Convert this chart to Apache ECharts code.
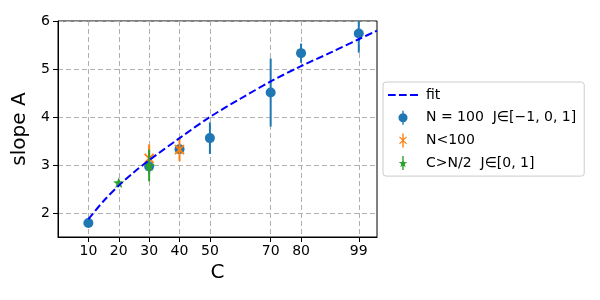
<!DOCTYPE html>
<html><head><meta charset="utf-8">
<script src="https://cdn.jsdelivr.net/npm/echarts@6/dist/echarts.min.js"></script>
<style>html,body{margin:0;padding:0;background:#fff}#c{width:600px;height:300px}</style>
</head><body><div id="c"></div>
<script>
const xTicks = [10, 20, 30, 40, 50, 70, 80, 99];
const yTicks = [2, 3, 4, 5, 6];
const fitC = [10, 15, 20, 25, 30, 40, 50, 60, 70, 80, 90, 99, 105];
const fitA = [1.87, 2.25, 2.57, 2.85, 3.1, 3.56, 4.0, 4.38, 4.74, 5.06, 5.35, 5.62, 5.8];
const blueC = [10, 30, 40, 50, 70, 80, 99];
const blueA = [1.79, 2.97, 3.33, 3.56, 4.51, 5.33, 5.74];
const blueErr = [0.03, 0.15, 0.1, 0.33, 0.71, 0.2, 0.4];
const orangeC = [30, 40];
const orangeA = [3.14, 3.32];
const orangeErr = [0.29, 0.24];
const greenC = [20, 30];
const greenA = [2.63, 2.99];
const greenErr = [0.05, 0.33];
const names = ['fit', 'N = 100  J\u2208[\u22121, 0, 1]', 'N<100', 'C>N/2  J\u2208[0, 1]'];

const BLUE = '#1f77b4', ORANGE = '#ff7f0e', GREEN = '#2ca02c';

function starPoints(cx, cy, R, r) {
  const pts = [];
  for (let i = 0; i < 10; i++) {
    const ang = -Math.PI / 2 + i * Math.PI / 5;
    const rad = i % 2 === 0 ? R : r;
    pts.push([cx + rad * Math.cos(ang), cy + rad * Math.sin(ang)]);
  }
  return pts;
}
function ptsToPath(pts) {
  return 'M' + pts.map(p => p[0].toFixed(2) + ',' + p[1].toFixed(2)).join('L') + 'Z';
}
const barPath = 'M9,0h2v20h-2z';
const iconFit = 'path://M0,0h7.7v2h-7.7z M11,0h7.7v2h-7.7z M22,0h8v2h-8z';
const iconBlue = 'path://' + barPath + 'M10,3.5a6.5,6.5 0 1,1 0,13a6.5,6.5 0 1,1 0,-13z';
const iconOrange = 'path://' + barPath + 'M5.6,4.4L15.6,14.4L14.4,15.6L4.4,5.6Z' + 'M14.4,4.4L15.6,5.6L5.6,15.6L4.4,14.4Z';
const iconGreen = 'path://' + barPath + ptsToPath(starPoints(10, 10.5, 6.5, 2.6));

function makeRender(kind, color) {
  return function (params, api) {
    const x = api.value(0), y = api.value(1), e = api.value(2);
    const c = api.coord([x, y]);
    const lo = api.coord([x, y - e]), hi = api.coord([x, y + e]);
    const cs = params.coordSys;
    const top = Math.max(hi[1], cs.y), bot = Math.min(lo[1], cs.y + cs.height);
    const children = [{ type: 'line', shape: { x1: c[0], y1: top, x2: c[0], y2: bot }, style: { stroke: color, lineWidth: 2 } }];
    if (kind === 'circle') {
      children.push({ type: 'circle', shape: { cx: c[0], cy: c[1], r: 5 }, style: { fill: color } });
    } else if (kind === 'x') {
      const s = 4.5;
      children.push({ type: 'line', shape: { x1: c[0] - s, y1: c[1] - s, x2: c[0] + s, y2: c[1] + s }, style: { stroke: color, lineWidth: 1.8 } });
      children.push({ type: 'line', shape: { x1: c[0] - s, y1: c[1] + s, x2: c[0] + s, y2: c[1] - s }, style: { stroke: color, lineWidth: 1.8 } });
    } else {
      children.push({ type: 'polygon', shape: { points: starPoints(c[0], c[1] + 0.5, 6, 2.4) }, style: { fill: color } });
    }
    return { type: 'group', children };
  };
}

const chart = echarts.init(document.getElementById('c'), null, { renderer: 'canvas' });
const option = {
  animation: false,
  textStyle: { fontFamily: 'DejaVu Sans' },
  grid: { left: 58, top: 21, right: 223, bottom: 63, show: true, borderColor: '#000', borderWidth: 1 },
  xAxis: {
    type: 'value', min: 0, max: 105,
    name: 'C', nameLocation: 'middle', nameGap: 26,
    nameTextStyle: { fontSize: 20, color: '#000', fontFamily: 'DejaVu Sans' },
    axisLine: { show: true, lineStyle: { color: '#000' } },
    axisTick: { show: true, inside: false, length: 5, customValues: xTicks, lineStyle: { color: '#000' } },
    axisLabel: { customValues: xTicks, fontSize: 14, color: '#000', margin: 7, fontFamily: 'DejaVu Sans' },
    splitLine: { show: true, lineStyle: { color: '#b0b0b0', type: [5, 3], width: 1 } }
  },
  yAxis: {
    type: 'value', min: 1.5, max: 6,
    name: 'slope A', nameLocation: 'middle', nameGap: 23,
    nameTextStyle: { fontSize: 20, color: '#000', fontFamily: 'DejaVu Sans' },
    axisLine: { show: true, lineStyle: { color: '#000' } },
    axisTick: { show: true, inside: false, length: 5, customValues: yTicks, lineStyle: { color: '#000' } },
    axisLabel: { customValues: yTicks, fontSize: 14, color: '#000', margin: 8, fontFamily: 'DejaVu Sans' },
    splitLine: { show: true, lineStyle: { color: '#b0b0b0', type: [5, 3], width: 1 } }
  },
  legend: {
    orient: 'vertical', left: 383, top: 82,
    itemWidth: 30, itemHeight: 14, itemGap: 8.7,
    padding: [6, 8, 6, 5],
    borderColor: '#cccccc', borderWidth: 1, borderRadius: 3,
    backgroundColor: 'rgba(255,255,255,0.8)',
    textStyle: { fontSize: 14, color: '#000', fontFamily: 'DejaVu Sans', padding: [0, 0, 0, 3] },
    data: [
      { name: names[0], icon: iconFit, itemStyle: { color: '#0000ff' } },
      { name: names[1], icon: iconBlue },
      { name: names[2], icon: iconOrange },
      { name: names[3], icon: iconGreen }
    ]
  },
  series: [
    {
      name: names[1], type: 'custom', z: 2,
      itemStyle: { color: BLUE },
      renderItem: makeRender('circle', BLUE),
      encode: { x: 0, y: 1 },
      data: blueC.map((c, i) => [c, blueA[i], blueErr[i]])
    },
    {
      name: names[2], type: 'custom', z: 3,
      itemStyle: { color: ORANGE },
      renderItem: makeRender('x', ORANGE),
      encode: { x: 0, y: 1 },
      data: orangeC.map((c, i) => [c, orangeA[i], orangeErr[i]])
    },
    {
      name: names[3], type: 'custom', z: 4,
      itemStyle: { color: GREEN },
      renderItem: makeRender('star', GREEN),
      encode: { x: 0, y: 1 },
      data: greenC.map((c, i) => [c, greenA[i], greenErr[i]])
    },
    {
      name: names[0], type: 'line', z: 5,
      smooth: 0.3, symbol: 'none', clip: true,
      lineStyle: { color: '#0000ff', width: 2, type: [7.5, 3.3] },
      itemStyle: { color: '#0000ff' },
      data: fitC.map((c, i) => [c, fitA[i]])
    }
  ]
};
chart.setOption(option);
</script>
</body></html>
